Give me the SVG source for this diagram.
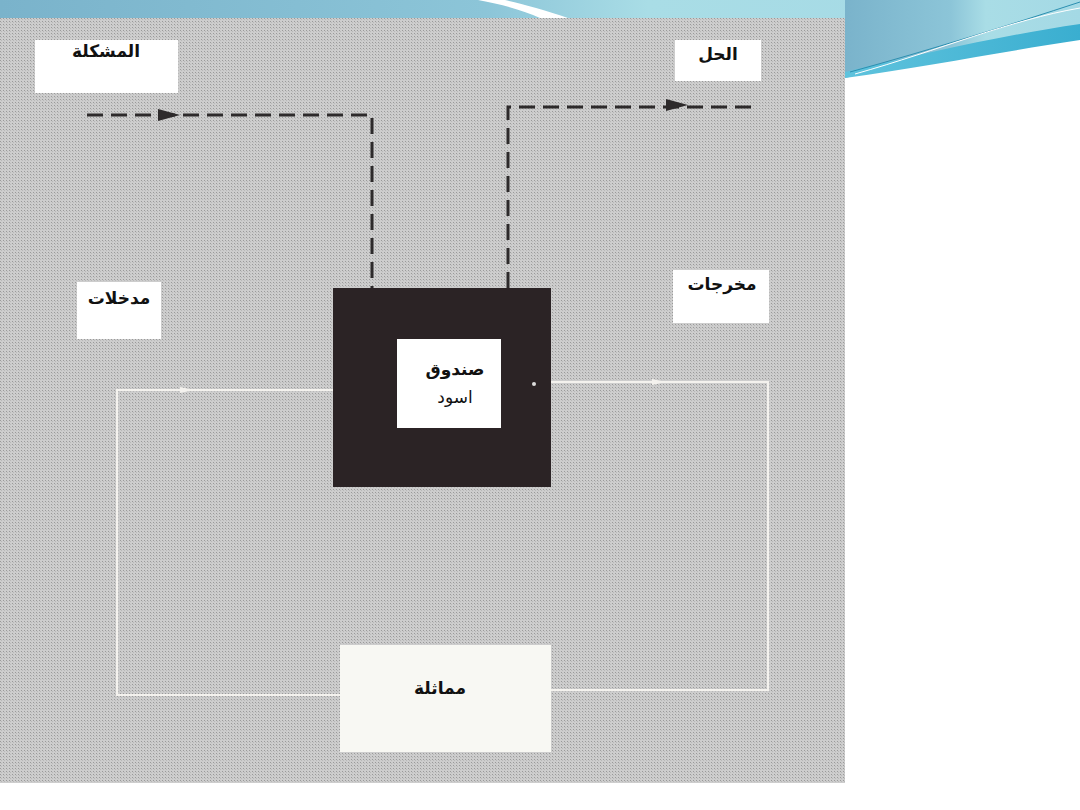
<svg xmlns="http://www.w3.org/2000/svg" width="1080" height="810" viewBox="0 0 1080 810">
<defs>
<linearGradient id="hdr" x1="0" y1="0" x2="1" y2="0">
<stop offset="0" stop-color="#7ab3cb"/>
<stop offset="0.45" stop-color="#8cc5d8"/>
<stop offset="0.6" stop-color="#a9dde6"/>
<stop offset="1" stop-color="#a4d9e5"/>
</linearGradient>
<linearGradient id="band" x1="0" y1="0" x2="1" y2="0">
<stop offset="0" stop-color="#5fc3dd"/>
<stop offset="1" stop-color="#3aaed0"/>
</linearGradient>
<pattern id="dots" width="3" height="3" patternUnits="userSpaceOnUse">
<rect width="3" height="3" fill="#cdcdcd"/>
<rect width="1" height="1" fill="#9a9a9a"/>
<rect x="1" y="1" width="1" height="1" fill="#b8b8b8"/>
</pattern>
<style>
.lbl{fill:#ffffff}
.t{font-family:"DejaVu Sans","Noto Sans",sans-serif;font-weight:bold;font-size:17px;fill:#111;text-anchor:middle}
.dash{fill:none;stroke:#2d2a2b;stroke-width:3;stroke-dasharray:16,8}
.wl{fill:none;stroke:#f4f2ee;stroke-width:2}
</style>
</defs>
<rect width="1080" height="810" fill="#ffffff"/>
<g id="header">
<rect x="0" y="0" width="1080" height="18" fill="url(#hdr)"/>
<path d="M845,18 L845,78 C920,60 1000,40 1080,28 L1080,0 L845,0 Z" fill="url(#hdr)"/>
<path d="M845,72 C930,52 1010,34 1080,24 L1080,40 C1000,52 930,66 845,78 Z" fill="url(#band)"/>
<path d="M850,72 C930,50 1010,25 1080,2" fill="none" stroke="#2c8fb0" stroke-width="1"/>
<path d="M855,74 C940,50 1010,20 1080,8" fill="none" stroke="#ffffff" stroke-width="1"/>
<path d="M478,0 C505,5 525,11 540,18 L568,18 C545,10 522,4 505,0 Z" fill="#ffffff"/>
</g>
<rect id="scan" x="0" y="18" width="845" height="765" fill="url(#dots)"/>
<g id="connectors">
<path class="dash" d="M87,115 H372 V288"/>
<path class="dash" d="M508,288 V107 H752"/>
<path d="M158,109 L180,115 L158,121 Z" fill="#2d2a2b"/>
<path d="M666,99 L688,105 L666,111 Z" fill="#2d2a2b"/>
<path class="wl" d="M333,390 H117 V695 H340"/>
<path class="wl" d="M551,382 H768 V690 H551"/>
<path d="M180,387 L194,390 L180,393 Z" fill="#f4f2ee"/>
<path d="M652,379 L666,382 L652,385 Z" fill="#f4f2ee"/>
</g>
<g id="node-problem">
<rect class="lbl" x="35" y="40" width="143" height="53"/>
<text class="t" x="106" y="57">المشكلة</text>
</g>
<g id="node-solution">
<rect class="lbl" x="675" y="40" width="86" height="41"/>
<text class="t" x="718" y="60">الحل</text>
</g>
<g id="node-inputs">
<rect class="lbl" x="77" y="282" width="84" height="57"/>
<text class="t" x="119" y="304">مدخلات</text>
</g>
<g id="node-outputs">
<rect class="lbl" x="673" y="270" width="96" height="53"/>
<text class="t" x="722" y="290">مخرجات</text>
</g>
<g id="node-blackbox">
<rect x="333" y="288" width="218" height="199" fill="#2b2325"/>
<rect class="lbl" x="397" y="339" width="104" height="89"/>
<text class="t" x="455" y="375">صندوق</text>
<text class="t" x="455" y="403" style="font-weight:normal">اسود</text>
<circle cx="534" cy="384" r="2" fill="#ddd"/>
</g>
<g id="node-similarity">
<rect x="340" y="645" width="211" height="107" fill="#f8f8f3"/>
<text class="t" x="440" y="694">مماثلة</text>
</g>
</svg>
